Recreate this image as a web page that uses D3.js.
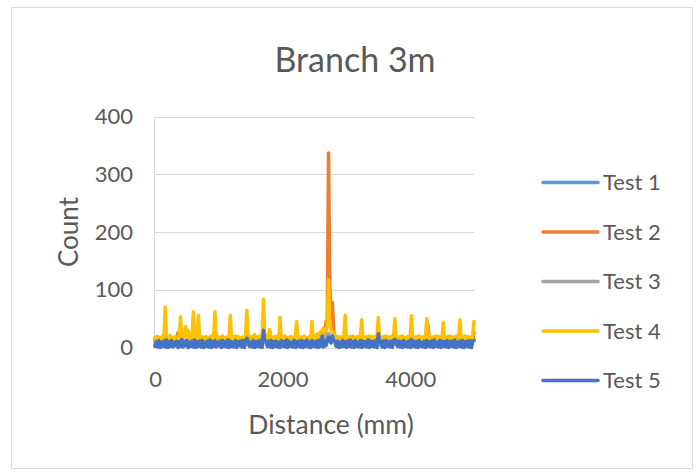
<!DOCTYPE html>
<html><head><meta charset="utf-8">
<script src="https://cdn.jsdelivr.net/npm/d3@7"></script>
<style>html,body{margin:0;padding:0;background:#fff;} svg{display:block;}</style>
</head><body>
<svg id="chart" width="700" height="475"></svg>
<script>
const chartTitle = "Branch 3m";
const xAxisTitle = "Distance (mm)";
const yAxisTitle = "Count";
const seriesNames = ["Test 1", "Test 2", "Test 3", "Test 4", "Test 5"];
const seriesColors = ["#5B9BD5", "#ED7D31", "#A5A5A5", "#FFC000", "#4472C4"];
const distanceStep = 20; // mm between samples
const xDomain = [0, 5000];
const yDomain = [0, 400];
const xTicks = [0, 2000, 4000];
const yTicks = [0, 100, 200, 300, 400];

const test1 = [
 12,5,13,4,11,6,12,5,14,6,
 11,4,13,5,12,6,11,4,13,5,
 14,6,12,5,13,4,12,6,11,5,
 13,4,12,6,11,5,13,4,12,6,
 11,5,13,4,12,6,11,14,5,12,
 4,13,6,11,5,12,4,13,6,14,
 5,12,4,13,6,11,5,12,4,13,
 6,11,15,5,12,4,13,6,11,5,
 12,4,13,6,11,16,10,12,5,13,
 14,5,12,4,13,6,11,5,14,4,
 12,6,11,5,13,4,12,6,11,5,
 13,15,4,12,6,11,5,13,4,12,
 6,11,5,14,6,13,15,12,16,13,
 18,15,20,17,19,22,24,20,17,16,
 15,12,11,6,12,5,13,4,11,14,
 5,12,4,13,6,11,5,12,4,13,
 6,11,14,5,12,4,13,6,11,5,
 12,4,13,6,11,15,5,12,4,13,
 6,11,5,12,4,13,6,11,14,5,
 12,4,13,6,11,5,12,4,13,6,
 11,15,5,12,4,13,6,11,5,12,
 4,13,6,15,12,11,5,12,4,13,
 6,11,5,12,4,13,14,5,12,4,
 13,6,11,5,12,4,13,6,11,14,
 5,12,4,13,6,11,5,12,4,13,
 14];
const test2 = [
 14,4,15,3,13,5,14,4,40,5,
 13,3,14,4,15,5,13,4,26,5,
 30,4,15,5,22,4,20,3,14,5,
 35,4,13,5,30,4,15,3,14,5,
 13,4,14,3,15,5,13,35,4,14,
 5,13,4,15,3,14,5,13,4,30,
 4,14,5,13,3,15,4,14,5,13,
 4,15,38,5,14,3,13,4,15,5,
 14,4,15,3,13,45,12,14,5,15,
 22,4,13,5,14,3,15,4,30,5,
 13,4,15,3,14,5,13,4,15,3,
 14,26,5,13,4,15,3,14,5,13,
 4,15,5,26,4,14,16,12,18,14,
 20,16,24,22,45,40,337,110,50,78,
 30,14,13,5,14,4,15,3,14,32,
 5,13,4,15,3,14,5,13,4,15,
 3,14,28,5,13,4,15,3,14,5,
 13,4,15,3,14,30,5,13,4,15,
 5,14,4,13,3,15,4,14,28,5,
 13,3,15,4,14,5,13,3,15,4,
 14,32,5,13,4,15,3,14,5,13,
 4,15,3,45,38,14,5,13,4,15,
 5,14,4,13,3,15,25,5,13,4,
 14,3,15,5,13,4,14,3,15,28,
 5,13,4,15,3,14,5,13,4,15,
 26];
const test3 = [
 5,13,6,12,4,11,6,13,12,5,
 12,6,11,4,13,5,12,6,11,4,
 13,5,14,6,12,5,11,4,13,6,
 14,5,11,4,12,6,13,5,11,4,
 12,6,11,5,13,4,12,13,6,11,
 5,12,4,14,6,11,5,12,4,12,
 6,11,5,12,4,13,6,11,5,12,
 4,13,14,6,11,5,12,4,13,6,
 11,5,12,4,13,18,12,11,6,12,
 13,6,11,5,12,4,13,6,12,5,
 11,4,13,6,12,5,11,4,13,6,
 12,14,6,11,5,13,4,12,6,11,
 5,12,6,13,5,12,14,13,15,12,
 16,14,18,16,20,21,24,19,18,15,
 14,11,12,5,11,6,12,5,13,13,
 6,11,5,12,4,13,6,11,5,12,
 4,13,12,6,11,5,12,4,13,6,
 11,5,12,4,13,14,6,11,5,12,
 5,12,6,11,5,12,4,13,12,6,
 11,5,12,6,13,4,11,5,12,6,
 13,14,6,11,5,12,4,13,6,11,
 5,12,4,14,11,13,6,11,5,12,
 4,13,6,11,5,12,13,6,11,5,
 12,5,13,4,11,6,12,5,13,12,
 6,11,5,12,4,13,6,11,5,12,
 13];
const test4 = [
 18,11,19,12,17,10,20,13,70,12,
 18,11,21,12,17,13,19,10,18,12,
 53,14,22,16,36,18,30,14,19,12,
 62,13,19,11,56,12,20,13,18,11,
 19,12,17,10,20,13,18,62,12,19,
 11,18,13,20,12,17,10,19,12,56,
 13,18,11,20,12,19,13,17,10,18,
 12,20,64,13,18,11,19,12,22,14,
 18,12,20,13,19,83,24,18,14,20,
 31,13,18,11,19,12,20,13,52,12,
 18,11,20,13,17,12,19,10,18,12,
 20,45,13,19,11,18,12,20,13,17,
 12,19,11,45,14,20,22,17,24,19,
 28,22,34,26,30,36,117,40,30,28,
 24,18,20,14,19,12,18,11,20,56,
 13,18,12,19,11,20,13,18,12,19,
 11,20,48,13,18,12,19,11,20,13,
 18,12,19,11,20,52,14,18,11,19,
 12,20,13,18,11,19,12,20,50,13,
 18,11,19,12,20,13,17,11,19,12,
 20,55,13,18,11,19,12,20,13,18,
 11,19,12,50,14,20,12,18,11,19,
 13,20,12,18,11,19,43,13,18,12,
 20,11,19,13,18,12,20,11,19,48,
 13,18,12,20,11,19,13,18,12,20,
 45];
const test5 = [
 2,10,1,12,0,9,2,11,1,13,
 0,10,2,12,1,9,3,11,0,10,
 2,14,1,10,3,12,0,9,2,11,
 1,13,0,10,2,11,1,12,0,9,
 2,11,1,13,0,10,2,12,1,9,
 3,11,0,12,2,10,1,13,0,11,
 2,9,1,12,0,10,3,11,1,12,
 0,10,16,11,2,9,1,12,0,10,
 2,11,1,13,0,30,12,10,2,11,
 1,12,0,10,2,11,1,9,0,12,
 2,10,1,13,0,11,2,9,1,12,
 0,10,2,11,1,12,0,10,2,13,
 1,9,0,12,2,10,1,11,0,12,
 2,20,1,12,3,10,18,14,8,20,
 12,10,2,11,0,9,1,12,2,10,
 0,11,2,13,1,10,0,12,2,9,
 1,12,0,11,2,10,1,13,0,11,
 2,10,1,12,0,24,12,9,1,11,
 0,12,2,10,1,11,0,13,14,9,
 2,11,1,10,0,12,2,9,1,11,
 0,14,2,11,1,10,0,12,2,9,
 1,11,0,12,2,10,1,11,0,13,
 2,9,1,12,0,11,2,10,1,12,
 0,10,2,11,1,13,0,9,2,11,
 1,12,0,10,2,11,1,12,0,10,
 12];

const seriesValues = [test1, test2, test3, test4, test5];
const expectedLen = (xDomain[1] - xDomain[0]) / distanceStep + 1;
seriesValues.forEach((v, k) => { if (v.length !== expectedLen) throw new Error(seriesNames[k] + " length " + v.length); });

const svg = d3.select("#chart");
const font = "Lato, 'Open Sans', sans-serif";
const textColor = "#595959";
const gridColor = "#d9d9d9";

// chart border
svg.append("rect").attr("x", 11.5).attr("y", 7.5).attr("width", 681).attr("height", 461)
  .attr("fill", "#fff").attr("stroke", gridColor).attr("stroke-width", 1);

const plot = {left: 155, right: 474, top: 116.5, bottom: 347.5};
const x = d3.scaleLinear().domain(xDomain).range([plot.left, plot.right]);
const y = d3.scaleLinear().domain(yDomain).range([plot.bottom, plot.top]);

// gridlines
svg.append("g").selectAll("line").data(yTicks).join("line")
  .attr("x1", plot.left).attr("x2", plot.right)
  .attr("y1", d => Math.round(y(d)) + 0.5).attr("y2", d => Math.round(y(d)) + 0.5)
  .attr("stroke", gridColor).attr("stroke-width", 1);
svg.append("line").attr("x1", plot.left - 0.5).attr("x2", plot.left - 0.5)
  .attr("y1", plot.top).attr("y2", plot.bottom).attr("stroke", gridColor);

// axes (labels only)
const yAxis = d3.axisLeft(y).tickValues(yTicks).tickSize(0).tickPadding(22);
const gy = svg.append("g").attr("transform", `translate(${plot.left},0)`).call(yAxis);
gy.select(".domain").remove();
gy.selectAll("text").attr("font-family", font).attr("font-size", 22).attr("fill", textColor);

const xAxis = d3.axisBottom(x).tickValues(xTicks).tickSize(0).tickPadding(24).tickFormat(d3.format("d"));
const gx = svg.append("g").attr("transform", `translate(0,${plot.bottom})`).call(xAxis);
gx.select(".domain").remove();
gx.selectAll("text").attr("font-family", font).attr("font-size", 22).attr("fill", textColor);

// series lines
const line = d3.line().x((d, i) => x(i * distanceStep)).y(d => y(d));
seriesValues.forEach((vals, k) => {
  svg.append("path").datum(vals).attr("d", line)
    .attr("fill", "none").attr("stroke", seriesColors[k]).attr("stroke-width", 3.5)
    .attr("stroke-linejoin", "round").attr("stroke-linecap", "round");
});

// title
svg.append("text").attr("x", 355).attr("y", 72).attr("text-anchor", "middle")
  .attr("font-family", font).attr("font-size", 34).attr("fill", textColor).text(chartTitle);

// axis titles
svg.append("text").attr("transform", `translate(78,${(plot.top + plot.bottom) / 2}) rotate(-90)`)
  .attr("text-anchor", "middle").attr("font-family", font).attr("font-size", 26)
  .attr("fill", textColor).text(yAxisTitle);
svg.append("text").attr("x", 331).attr("y", 434).attr("text-anchor", "middle")
  .attr("font-family", font).attr("font-size", 26.5).attr("fill", textColor).text(xAxisTitle);

// legend
const legendTop = 182.5, legendGap = 49.5;
const lg = svg.append("g").selectAll("g").data(seriesNames).join("g")
  .attr("transform", (d, i) => `translate(0,${legendTop + i * legendGap})`);
lg.append("line").attr("x1", 543).attr("x2", 598).attr("y1", 0).attr("y2", 0)
  .attr("stroke", (d, i) => seriesColors[i]).attr("stroke-width", 3.5).attr("stroke-linecap", "round");
lg.append("text").attr("x", 603).attr("y", 0).attr("dy", "0.35em")
  .attr("font-family", font).attr("font-size", 22).attr("fill", textColor).text(d => d);
</script>
</body></html>
